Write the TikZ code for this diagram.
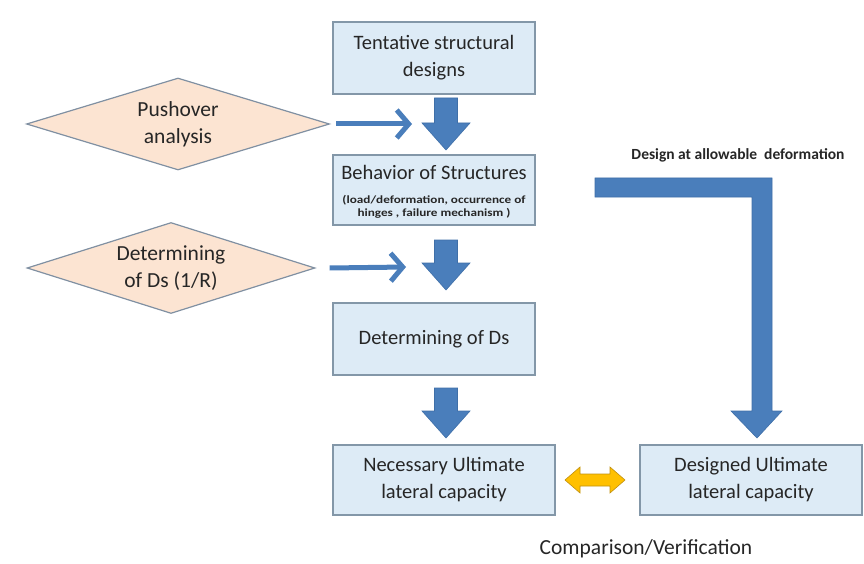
\documentclass[tikz,border=0pt]{standalone}
\usepackage{fontspec}
\setmainfont{Carlito}
\usetikzlibrary{shapes.geometric,arrows.meta}
\definecolor{boxfill}{HTML}{DDEBF6}
\definecolor{boxline}{HTML}{8397A8}
\definecolor{diafill}{HTML}{FCE4D2}
\definecolor{dialine}{HTML}{8090A2}
\definecolor{arrblue}{HTML}{4A7EBB}
\definecolor{arrline}{HTML}{3F6FA8}
\definecolor{yel}{HTML}{FFC000}
\definecolor{yelline}{HTML}{C09010}
\definecolor{txt}{HTML}{262626}
\begin{document}
\begin{tikzpicture}[x=1pt,y=-1pt,
  procbox/.style={draw=boxline,fill=boxfill,line width=1.2pt,minimum width=202pt,minimum height=72pt,align=center,font=\fontsize{20.5}{27}\selectfont,text=txt,inner sep=0pt},
  decis/.style={draw=dialine,fill=diafill,line width=1.2pt,diamond,aspect=3.3,align=center,font=\fontsize{21.5}{27}\selectfont,text=txt,inner sep=0pt},
  blockarr/.style={fill=arrblue,draw=arrline,line width=0.6pt},
  linearr/.style={draw=arrblue,line width=5pt,-{Straight Barb[length=12pt,width=28pt,line width=5pt]}},
]
\useasboundingbox (0,0) rectangle (864,564);
% boxes
\node[procbox] (tent) at (434,58) {Tentative structural\\designs};
\node[procbox,minimum height=70pt] (beh) at (434,190) {};
\node[font=\fontsize{20.5}{24}\selectfont,text=txt] (behT) at (434,172) {Behavior of Structures};
\node[font=\bfseries\fontsize{11}{12.5}\selectfont,text=txt,align=center,xscale=1.2] (behS) at (434,207) {(load/deformation, occurrence of\\hinges , failure mechanism )};
\node[procbox] (dds) at (434,339) {Determining of Ds};
\node[procbox,minimum width=222pt,minimum height=70pt] (nec) at (444,480) {Necessary Ultimate\\lateral capacity};
\node[procbox,minimum width=222pt,minimum height=70pt] (des) at (751,480) {Designed Ultimate\\lateral capacity};
% diamonds
\node[decis,minimum width=303pt,minimum height=92pt] (push) at (178,124) {Pushover\\analysis};
\node[decis,minimum width=288pt,minimum height=91pt] (ddr) at (171,268) {Determining\\of Ds (1/R)};
% line arrows
\coordinate (pa) at (412,124);
\coordinate (da) at (406,267);
\draw[linearr] (push.east) ++(6,0) -- (pa);
\draw[linearr] (ddr.east) ++(14,0) -- (da);
% block arrows (down)
\def\blk#1#2#3{% x, top y, tip y
  \path[blockarr] (#1-11.5,#2) -- (#1+11.5,#2) -- (#1+11.5,#3-27) -- (#1+24,#3-27) -- (#1,#3) -- (#1-24,#3-27) -- (#1-11.5,#3-27) -- cycle;}
\blk{446}{98}{150}
\blk{446}{240}{290}
\blk{446}{388}{438}
% L shaped arrow
\path[blockarr] (595,178) -- (772,178) -- (772,411) -- (782,411) -- (757,438) -- (731,411) -- (752,411) -- (752,197) -- (595,197) -- cycle;
% yellow double arrow
\path[fill=yel,draw=yelline,line width=0.6pt] (565,480) -- (580,467) -- (580,474) -- (610,474) -- (610,467) -- (625,480) -- (610,493) -- (610,486) -- (580,486) -- (580,493) -- cycle;
% labels
\node[font=\bfseries\fontsize{15.5}{18}\selectfont,text=txt] (lab1) at (738,155) {Design at allowable\ \ deformation};
\node[font=\fontsize{21.5}{24}\selectfont,text=txt] (lab2) at (646,549) {Comparison/Verification};
\end{tikzpicture}
\end{document}
